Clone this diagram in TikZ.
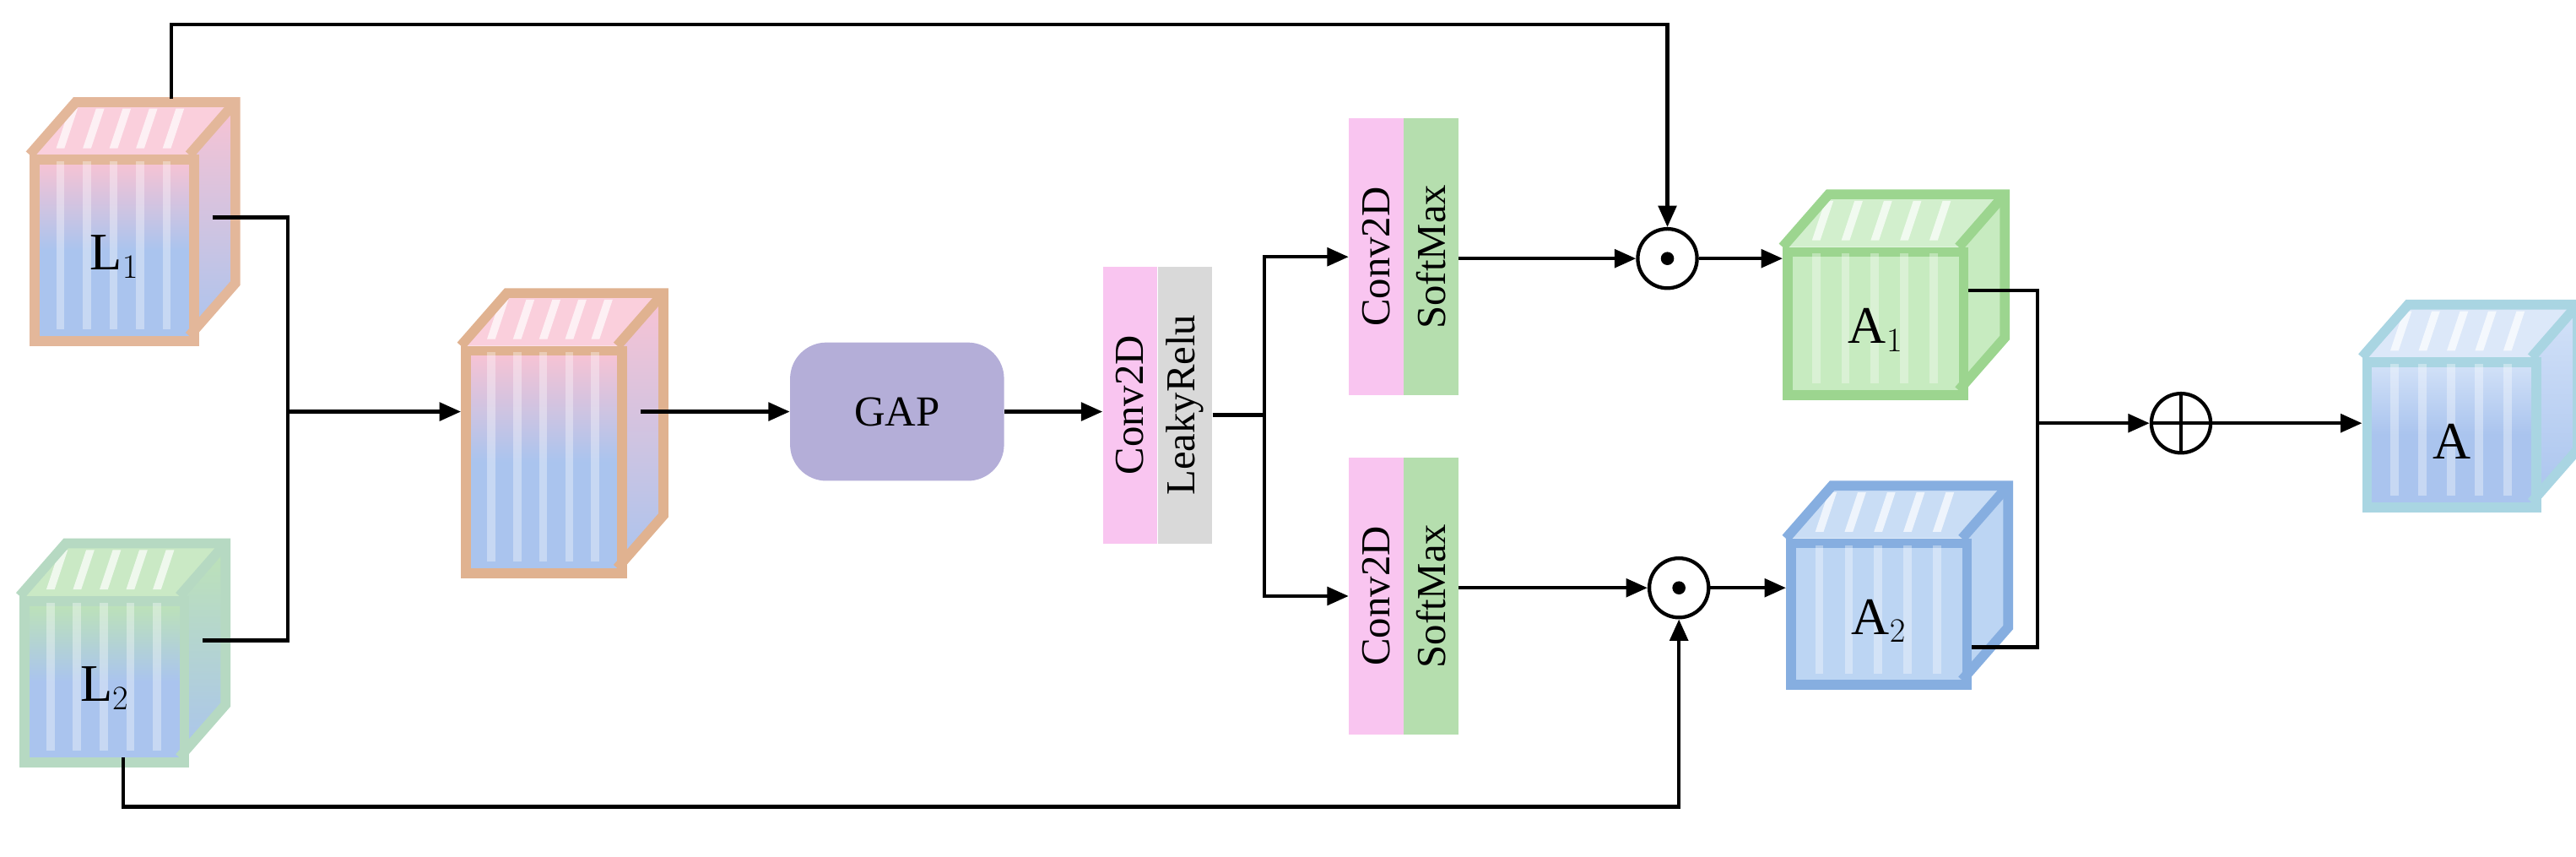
\documentclass[tikz,border=0pt]{standalone}
\usepackage{fontspec}
\setmainfont{Liberation Serif}
\usetikzlibrary{arrows.meta,calc}
\definecolor{lblue}{HTML}{AAC4EE}
\definecolor{lbluel}{HTML}{D3E2F8}
\definecolor{lpink}{HTML}{F9C3D3}
\definecolor{lgreen}{HTML}{BDE3B6}
\definecolor{borL}{HTML}{E3B79A}
\definecolor{borLL}{HTML}{B6D9C2}
\definecolor{borM}{HTML}{E0B290}
\definecolor{borA1}{HTML}{9CD58F}
\definecolor{faceA1}{HTML}{C7EBC0}
\definecolor{borA2}{HTML}{86AEE0}
\definecolor{faceA2}{HTML}{BCD5F3}
\definecolor{borA}{HTML}{A9D5E2}
\definecolor{gap}{HTML}{B4AED8}
\definecolor{cpink}{HTML}{F9C5F0}
\definecolor{cgray}{HTML}{D9D9D9}
\definecolor{cgreen}{HTML}{B5DEAE}
\tikzset{
  ar/.style={line width=2.2pt,-{Triangle[length=13pt,width=11pt]}},
  ln/.style={line width=2.2pt},
  lbl/.style={font=\fontsize{32}{34}\selectfont},
  blk/.style={rotate=90,minimum width=168pt,minimum height=33pt,inner sep=0pt,font=\fontsize{25}{27}\selectfont},
  op/.style={circle,draw,line width=2.2pt,minimum size=36pt,inner sep=0pt},
}
% name, x, y(top, positive down), w, h, topcolor, bottomcolor, border, label
\newcommand\mycube[9]{%
  \fill[#6!80] (#2,-#3) -- ++(28,32) -- ++(#4,0) -- ++(-28,-32) -- cycle;
  \shade[top color=#6,bottom color=#7] (#2+#4,-#3) -- ++(28,32) -- ++(0,-#5) -- ++(-28,-32) -- cycle;
  \foreach \i in {1,...,5}{\fill[white,opacity=.7] ($(#2,-#3)+(\i*#4/6,0)+(0,4)$) -- ++(5,0) -- ++(8,24) -- ++(-5,0) -- cycle;}
  \node[draw=#8,line width=6pt,top color=#6,bottom color=#7,middle color=#7,minimum width=#4pt,minimum height=#5pt,anchor=north west,inner sep=0pt] (#1) at (#2,-#3) {};
  \foreach \i in {1,...,5}{\fill[white,opacity=.35] ($(#2,-#3)+(\i*#4/6,-4)$) rectangle ++(5,-#5+8);}
  \draw[#8,line width=6pt,line join=miter] (#2,-#3) -- ++(28,32) -- ++(#4,0) -- ++(0,-#5) -- ++(-28,-32);
  \draw[#8,line width=6pt] (#2+#4,-#3) -- ++(28,32);
  \node[lbl] at ($(#1.center)+(0,-4)$) {#9};
}
\begin{document}
\begin{tikzpicture}[x=1pt,y=1pt]
\useasboundingbox (0,0) rectangle (1565,-520);
% cubes
\mycube{L1}{18}{94}{97}{110}{lpink}{lblue}{borL}{L$_1$}
\mycube{L2}{12}{362}{97}{98}{lgreen}{lblue}{borLL}{L$_2$}
\mycube{M}{280}{210}{95}{135}{lpink}{lblue}{borM}{}
\mycube{A1}{1083}{150}{107}{87}{faceA1}{faceA1}{borA1}{A$_1$}
\mycube{A2}{1085}{327}{107}{86}{faceA2}{faceA2}{borA2}{A$_2$}
\mycube{A}{1435}{217}{103}{88}{lbluel}{lblue}{borA}{A}
% GAP
\node[fill=gap,rounded corners=22pt,minimum width=130pt,minimum height=84pt,font=\fontsize{26}{28}\selectfont] (gap) at (545,-250) {GAP};
% conv blocks
\node[blk,fill=cpink] (c1) at (686.5,-246) {Conv2D};
\node[blk,fill=cgray,anchor=north] (l1) at (c1.south) {LeakyRelu};
\node[blk,fill=cpink] (c2) at (836,-156) {Conv2D};
\node[blk,fill=cgreen,anchor=north] (s2) at (c2.south) {SoftMax};
\node[blk,fill=cpink] (c3) at (836,-362) {Conv2D};
\node[blk,fill=cgreen,anchor=north] (s3) at (c3.south) {SoftMax};
% operators
\node[op] (m1) at (1013,-157) {};
\fill (m1.center) circle (4pt);
\node[op] (m2) at (1020,-357) {};
\fill (m2.center) circle (4pt);
\node[op] (pl) at (1325,-257) {};
\draw[line width=2.2pt] (pl.north) -- (pl.south) (pl.west) -- (pl.east);
% junction coords
\coordinate (j1) at (175,-250);
\coordinate (j2) at (768,-252);
\coordinate (j3) at (1238,-257);
% connectors
\draw[ln] ($(L1.east)+(8,20)$) -| (j1);
\draw[ln] ($(L2.east)+(8,25)$) -| (j1);
\draw[ar] (j1) -- (j1 -| M.west);
\draw[ar] ($(M.east |- gap)+(8,0)$) -- (gap.west);
\draw[ar] (gap.east) -- (c1.north |- gap.east);
\draw[ln] (l1.south |- j2) -- (j2);
\draw[ar] (j2) |- (c2.north);
\draw[ar] (j2) |- (c3.north);
\draw[ar] (s2.south |- m1) -- (m1.west);
\draw[ar] (s3.south |- m2) -- (m2.west);
\draw[ar] (m1.east) -- (m1 -| A1.west);
\draw[ar] (m2.east) -- (m2 -| A2.west);
\draw[ar] (104,-60) |- (1013,-15) -- (m1.north);
\draw[ar] (75,-460) |- (1020,-490) -- (m2.south);
\draw[ln] ($(A1.east)+(0,20)$) -| (j3);
\draw[ln] ($(A2.east)+(0,-20)$) -| (j3);
\draw[ar] (j3) -- (pl.west);
\draw[ar] (pl.east) -- (pl -| A.west);
\end{tikzpicture}
\end{document}
